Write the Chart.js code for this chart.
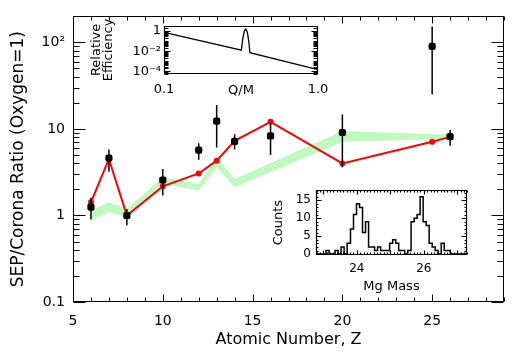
<!DOCTYPE html>
<html><head><meta charset="utf-8">
<script src="https://cdn.jsdelivr.net/npm/chart.js@4/dist/chart.umd.min.js"></script>
<style>
html,body{margin:0;padding:0;background:#fff;width:524px;height:357px;overflow:hidden;}
canvas{position:absolute;}
</style></head><body>
<canvas id="main" width="524" height="357" style="left:0;top:0"></canvas>
<canvas id="eff" width="250" height="90" style="left:88px;top:15px"></canvas>
<canvas id="hist" width="215" height="118" style="left:262px;top:178px"></canvas>
<script>
// ---- main plot data ----
const atomicZ   = [6, 7, 8, 10, 12, 13, 14, 16, 20, 25, 26];
const sepRatio  = [1.25, 4.6, 1.0, 2.57, 5.7, 12.3, 7.2, 8.3, 9.1, 90, 8.15];
const sepLow    = [0.9, 3.2, 0.77, 1.7, 4.4, 6.1, 5.8, 5.0, 3.6, 25, 6.4];
const sepHigh   = [1.6, 5.8, 1.19, 3.45, 6.85, 18.9, 8.7, 11.8, 14.7, 153, 9.7];
const modelZ    = [6, 7, 8, 10, 12, 13, 14, 16, 20, 25, 26];
const modelRatio= [1.42, 4.5, 1.0, 2.17, 3.06, 4.3, 7.3, 12.1, 4.0, 7.1, 8.1];
const bandZ     = [6, 7, 8, 10, 12, 13, 14, 20, 26];
const bandUpper = [1.14, 1.42, 1.19, 2.76, 2.31, 4.69, 2.64, 9.5, 8.6];
const bandLower = [0.88, 1.09, 0.96, 2.31, 1.94, 3.6, 2.12, 7.1, 7.7];
const xTickValues = [5, 10, 15, 20, 25];
const xTickLabels = ['5', '10', '15', '20', '25'];
const yTickValues = [0.1, 1, 10, 100];
const yTickLabels = ['0.1', '1', '10', '10\u00B2'];

// ---- efficiency inset ----
const qmValues  = [0.1, 0.318, 0.325, 0.333, 0.340, 0.348, 0.356, 0.361, 1.0];
const effValues = [0.71, 0.0126, 0.19, 1.1, 1.6, 0.71, 0.075, 0.0072, 1.5e-4];
const qmTickValues = [0.1, 1.0];
const qmTickLabels = ['0.1', '1.0'];
const effTickValues = [1e-4, 1e-2, 1];
const effTickLabels = ['10\u207B\u2074', '10\u207B\u00B2', '1'];
const effTitleLines = ['Relative', 'Efficiency'];

// ---- Mg mass histogram inset ----
const massEdges = [23.08, 23.17, 23.26, 23.35, 23.44, 23.53, 23.62, 23.71, 23.81, 23.90,
                   23.99, 24.08, 24.17, 24.26, 24.35, 24.44, 24.53, 24.62, 24.71, 24.80,
                   24.89, 24.98, 25.07, 25.16, 25.25, 25.34, 25.43, 25.52, 25.62, 25.71,
                   25.80, 25.89, 25.98, 26.07, 26.16, 26.25, 26.34, 26.43, 26.52, 26.61,
                   26.70, 26.79];
const binCounts = [1, 0, 0, 1, 0, 2, 0, 3, 7, 11, 14, 13, 6, 9, 2, 2, 1, 2, 1, 1,
                   1, 3, 4, 3, 1, 1, 0, 1, 9, 10, 11, 16, 9, 8, 3, 2, 1, 0, 3, 1, 1];
const massTickValues = [24, 26];
const massTickLabels = ['24', '26'];
const countTickValues = [0, 5, 10, 15];
const countTickLabels = ['0', '5', '10', '15'];

const FONT = "'DejaVu Sans', 'Noto Sans', sans-serif";
Chart.defaults.font.family = FONT;
Chart.defaults.color = '#000';
Chart.defaults.animation = false;

function framePlugin(xTicks, yTicks, lw) {
  return {
    id: 'frameTicks',
    afterDraw(chart) {
      const ctx = chart.ctx, a = chart.chartArea;
      const L = Math.round(a.left) + 0.5, R = Math.round(a.right) - 0.5;
      const T = Math.round(a.top) + 0.5, B = Math.round(a.bottom) - 0.5;
      ctx.save();
      ctx.strokeStyle = '#000';
      ctx.lineWidth = lw;
      ctx.beginPath();
      ctx.rect(L, T, R - L, B - T);
      for (const t of xTicks) {
        const p = Math.round(chart.scales.x.getPixelForValue(t[0])) + 0.5;
        if (p < L - 1 || p > R + 1) continue;
        ctx.moveTo(p, B); ctx.lineTo(p, B - t[1]);
        ctx.moveTo(p, T); ctx.lineTo(p, T + t[1]);
      }
      for (const t of yTicks) {
        const p = Math.round(chart.scales.y.getPixelForValue(t[0])) + 0.5;
        if (p < T - 1 || p > B + 1) continue;
        ctx.moveTo(L, p); ctx.lineTo(L + t[1], p);
        ctx.moveTo(R, p); ctx.lineTo(R - t[1], p);
      }
      ctx.stroke();
      ctx.restore();
    }
  };
}
function logTicks(lo, hi, dMin, dMax, majorLen, minorLen, isMajor) {
  const out = [];
  for (let d = dMin; d <= dMax; d++) for (let k = 1; k <= 9; k++) {
    const v = k * Math.pow(10, d);
    if (v < lo * 0.999 || v > hi * 1.001) continue;
    out.push([v, (k === 1 && isMajor(d)) ? majorLen : minorLen]);
  }
  return out;
}
const noGrid = { display: false, drawTicks: false };

// ---------- main chart ----------
const mainX = [];
for (let z = 5; z <= 29; z++) mainX.push([z, z % 5 === 0 ? 7 : 4]);
const mainY = logTicks(0.1, 200, -1, 2, 12, 6, () => true);

const errData = [];
atomicZ.forEach((z, i) => { errData.push({x: z, y: sepLow[i]}, {x: z, y: sepHigh[i]}, {x: z, y: null}); });
const green = 'rgb(190,250,190)';

new Chart(document.getElementById('main'), {
  type: 'scatter',
  data: { datasets: [
    { data: atomicZ.map((z, i) => ({x: z, y: sepRatio[i]})), pointStyle: 'rectRounded', pointRadius: 4.2,
      backgroundColor: '#000', borderColor: '#000', borderWidth: 0, showLine: false, order: 0 },
    { data: errData, showLine: true, spanGaps: false, borderColor: '#000', borderWidth: 1.5, pointRadius: 0, order: 1 },
    { data: modelZ.map((z, i) => ({x: z, y: modelRatio[i]})), showLine: true, borderColor: '#ff0000', borderWidth: 2,
      pointRadius: 2, pointBackgroundColor: '#ff0000', pointBorderColor: '#ff0000', borderJoinStyle: 'miter', order: 2 },
    { data: bandZ.map((z, i) => ({x: z, y: bandUpper[i]})), showLine: true, borderWidth: 0, borderColor: 'rgba(0,0,0,0)',
      pointRadius: 0, fill: '+1', backgroundColor: green, order: 3 },
    { data: bandZ.map((z, i) => ({x: z, y: bandLower[i]})), showLine: true, borderWidth: 0, borderColor: 'rgba(0,0,0,0)',
      pointRadius: 0, fill: false, backgroundColor: green, order: 4 }
  ]},
  options: {
    responsive: false, devicePixelRatio: 1,
    layout: { padding: { left: 0, top: 14, right: 20, bottom: 0 } },
    plugins: { legend: { display: false }, tooltip: { enabled: false } },
    scales: {
      x: { type: 'linear', min: 5, max: 29, grid: noGrid, border: { display: false },
        afterBuildTicks: s => { s.ticks = xTickValues.map(v => ({value: v})); },
        afterFit: s => { s.height = 55; },
        ticks: { font: { size: 14 }, padding: 11, autoSkip: false, maxRotation: 0, callback: (v, i) => xTickLabels[i] },
        title: { display: true, text: 'Atomic Number, Z', font: { size: 16 }, padding: { top: 0, bottom: 8 } } },
      y: { type: 'logarithmic', min: 0.1, max: 200, grid: noGrid, border: { display: false },
        afterBuildTicks: s => { s.ticks = yTickValues.map(v => ({value: v})); },
        afterFit: s => { s.width = 73; },
        ticks: { font: { size: 14 }, padding: 8, autoSkip: false, callback: (v, i) => yTickLabels[i] },
        title: { display: true, text: 'SEP/Corona Ratio (Oxygen=1)', font: { size: 17 }, padding: { top: 8, bottom: 0 } } }
    }
  },
  plugins: [framePlugin(mainX, mainY, 1)]
});

// ---------- efficiency inset ----------
const effY = logTicks(5.6e-5, 3.2, -5, 0, 6, 4, d => d % 2 === 0);
const effTitle = {
  id: 'effTitle',
  afterDraw(chart) {
    const ctx = chart.ctx, a = chart.chartArea;
    ctx.save();
    ctx.font = '13px ' + FONT;
    ctx.fillStyle = '#000';
    ctx.textAlign = 'center';
    ctx.textBaseline = 'middle';
    ctx.translate(9, (a.top + a.bottom) / 2);
    ctx.rotate(-Math.PI / 2);
    effTitleLines.forEach((t, i) => ctx.fillText(t, 0, i * 11.6));
    ctx.restore();
  }
};
new Chart(document.getElementById('eff'), {
  type: 'scatter',
  data: { datasets: [{ data: qmValues.map((q, i) => ({x: q, y: effValues[i]})), showLine: true,
    borderColor: '#000', borderWidth: 1.3, pointRadius: 0 }] },
  options: {
    responsive: false, devicePixelRatio: 1,
    layout: { padding: { left: 0, top: 10, right: 20, bottom: 0 } },
    plugins: { legend: { display: false }, tooltip: { enabled: false } },
    scales: {
      x: { type: 'logarithmic', min: 0.1, max: 1, grid: noGrid, border: { display: false },
        afterBuildTicks: s => { s.ticks = qmTickValues.map(v => ({value: v})); },
        afterFit: s => { s.height = 31; },
        ticks: { font: { size: 13 }, padding: 8, autoSkip: false, maxRotation: 0, callback: (v, i) => qmTickLabels[i] },
        title: { display: true, text: 'Q/M', font: { size: 13 }, padding: { top: 0, bottom: 7 } } },
      y: { type: 'logarithmic', min: 5.6e-5, max: 3.2, grid: noGrid, border: { display: false },
        afterBuildTicks: s => { s.ticks = effTickValues.map(v => ({value: v})); },
        afterFit: s => { s.width = 76; },
        ticks: { font: { size: 13 }, padding: 3, autoSkip: false, callback: (v, i) => effTickLabels[i] },
        title: { display: false } }
    }
  },
  plugins: [framePlugin([], effY, 1.2), effTitle]
});

// ---------- histogram inset ----------
const histPts = [{x: 22.78, y: 0}];
massEdges.forEach((m, i) => histPts.push({x: m, y: i < binCounts.length ? binCounts[i] : 0}));
histPts.push({x: 27.29, y: 0});
const histX = [];
for (let i = 228; i <= 273; i++) histX.push([i / 10, i % 10 === 0 ? 4 : 2]);
const histY = [];
for (let c = 0; c <= 17; c++) histY.push([c, c % 5 === 0 ? 5 : 2]);

new Chart(document.getElementById('hist'), {
  type: 'scatter',
  data: { datasets: [{ data: histPts, showLine: true, stepped: 'before', borderColor: '#000', borderWidth: 1.5, pointRadius: 0 }] },
  options: {
    responsive: false, devicePixelRatio: 1,
    layout: { padding: { left: 0, top: 6, right: 10, bottom: 0 } },
    plugins: { legend: { display: false }, tooltip: { enabled: false } },
    scales: {
      x: { type: 'linear', min: 22.78, max: 27.29, grid: noGrid, border: { display: false },
        afterBuildTicks: s => { s.ticks = massTickValues.map(v => ({value: v})); },
        afterFit: s => { s.height = 41; },
        ticks: { font: { size: 12 }, padding: 7, autoSkip: false, maxRotation: 0, callback: (v, i) => massTickLabels[i] },
        title: { display: true, text: 'Mg Mass', font: { size: 13 }, padding: { top: 0, bottom: 1.5 } } },
      y: { type: 'linear', min: -0.25, max: 17.8, grid: noGrid, border: { display: false },
        afterBuildTicks: s => { s.ticks = countTickValues.map(v => ({value: v})); },
        afterFit: s => { s.width = 54; },
        ticks: { font: { size: 12 }, padding: 5, autoSkip: false, callback: (v, i) => countTickLabels[i] },
        title: { display: true, text: 'Counts', font: { size: 13 }, padding: { top: 9, bottom: 0 } } }
    }
  },
  plugins: [framePlugin(histX, histY, 1.2)]
});
</script></body></html>
